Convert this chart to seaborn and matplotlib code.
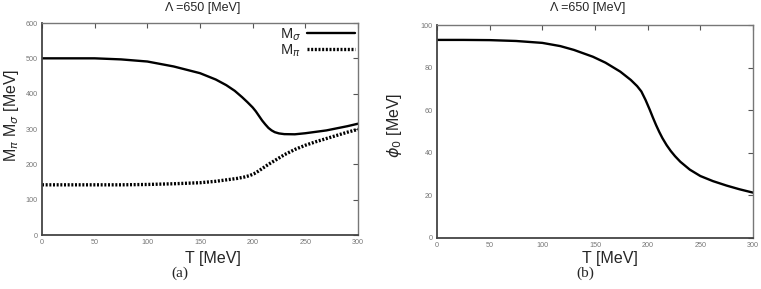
import numpy as np
import pandas as pd
import matplotlib
matplotlib.use("Agg")
import matplotlib.pyplot as plt
import seaborn as sns

# ---- data ----
T_sigma = [0, 25, 50, 75, 100, 125, 150, 165, 175, 183, 190, 195, 200, 203, 206, 209, 212, 215, 218, 221, 225, 230, 240, 250, 260, 270, 280, 290, 300]
M_sigma = [500, 500, 500, 497, 491, 477, 458, 440, 424, 408, 390, 376, 361, 350, 337, 324, 313, 303, 296, 291, 287.5, 285.5, 285, 288, 292, 296, 302, 308, 315]
T_pi = [0, 25, 50, 75, 100, 125, 150, 165, 175, 185, 192, 197, 201, 205, 210, 215, 220, 225, 230, 240, 250, 260, 270, 280, 290, 300]
M_pi = [142, 142, 142, 142, 143, 145, 148, 152, 156, 160, 164, 168, 173, 180, 190, 200, 209, 218, 227, 242, 254, 264, 273, 282, 291, 299]
T_phi = [0, 25, 50, 75, 100, 117, 130, 148, 160, 174, 184, 190, 194, 198, 202, 205, 208, 211, 214, 218, 222, 226, 231, 240, 250, 262, 275, 287, 300]
phi0 = [93, 93, 92.9, 92.5, 91.6, 90.1, 88.3, 85.1, 82.3, 78.1, 74.2, 71.3, 68.8, 64.8, 60.2, 56.5, 53.0, 49.8, 46.9, 43.6, 40.8, 38.4, 35.8, 32.1, 29.1, 26.7, 24.6, 22.9, 21.3]

title_text = "Λ =650 [MeV]"
xlabel_text = "T [MeV]"
x_ticks = [0, 50, 100, 150, 200, 250, 300]
ya_ticks = [0, 100, 200, 300, 400, 500, 600]
yb_ticks = [0, 20, 40, 60, 80, 100]

sns.set_style("white")
plt.rcParams['font.family'] = ['Liberation Sans', 'DejaVu Sans']
plt.rcParams['mathtext.fontset'] = 'dejavusans'

fig = plt.figure(figsize=(7.61, 2.89), dpi=100)
W, H = 761, 289
axa = fig.add_axes([42 / W, 1 - 235 / H, 316 / W, 212 / H])
axb = fig.add_axes([437 / W, 1 - 238 / H, 316 / W, 213 / H])

df_s = pd.DataFrame({"T": T_sigma, "M": M_sigma})
df_p = pd.DataFrame({"T": T_pi, "M": M_pi})
df_phi = pd.DataFrame({"T": T_phi, "phi": phi0})

sns.lineplot(data=df_s, x="T", y="M", ax=axa, color="black", lw=1.7, label=r"M$_\sigma$")
sns.lineplot(data=df_p, x="T", y="M", ax=axa, color="black", lw=2.4, linestyle=(0, (0.6, 0.5)), label=r"M$_\pi$")
sns.lineplot(data=df_phi, x="T", y="phi", ax=axb, color="black", lw=1.7)

for ax, yt, ylim in [(axa, ya_ticks, (0, 600)), (axb, yb_ticks, (0, 100))]:
    ax.set_xlim(0, 300)
    ax.set_ylim(*ylim)
    ax.set_xticks(x_ticks)
    ax.set_yticks(yt)
    ax.set_xlabel("")
    ax.set_ylabel("")
    ax.tick_params(direction="in", length=3.5, width=0.8, colors="#555555",
                   labelcolor="#777777", labelsize=5.2, top=True, right=True, pad=3)
    for side in ["left", "bottom"]:
        ax.spines[side].set_color("#444444")
        ax.spines[side].set_linewidth(1.3)
    for side in ["top", "right"]:
        ax.spines[side].set_color("#777777")
        ax.spines[side].set_linewidth(1.0)

leg = axa.legend(loc="upper right", frameon=False, markerfirst=False, fontsize=10.5,
                 handlelength=3.3, borderaxespad=0.0, borderpad=0.2, labelspacing=-0.05,
                 handletextpad=0.4)

fig.text(203 / W, 1 - 8 / H, title_text, ha="center", va="center", fontsize=9)
fig.text(588 / W, 1 - 8 / H, title_text, ha="center", va="center", fontsize=9)
fig.text(213 / W, 1 - 258 / H, xlabel_text, ha="center", va="center", fontsize=11.5)
fig.text(610 / W, 1 - 258 / H, xlabel_text, ha="center", va="center", fontsize=11.5)
fig.text(180 / W, 1 - 273 / H, "(a)", ha="center", va="center", fontsize=11, family="Liberation Serif")
fig.text(585 / W, 1 - 273 / H, "(b)", ha="center", va="center", fontsize=11, family="Liberation Serif")
fig.text(12 / W, 1 - 115 / H, r"M$_\pi$ M$_\sigma$ [MeV]", ha="center", va="center", rotation=90, fontsize=11.5)
fig.text(395 / W, 1 - 125 / H, r"$\phi_0$ [MeV]", ha="center", va="center", rotation=90, fontsize=11.5)

fig.savefig("out.png", dpi=100)
